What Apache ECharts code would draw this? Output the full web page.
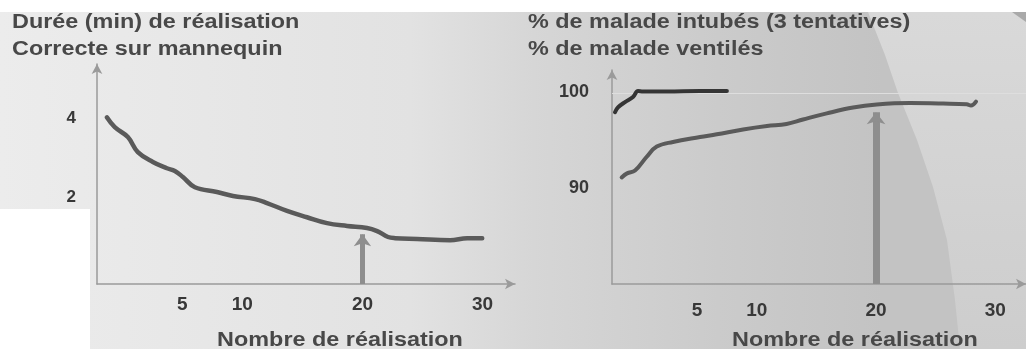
<!DOCTYPE html>
<html>
<head>
<meta charset="utf-8">
<script src="https://cdn.jsdelivr.net/npm/echarts@6/dist/echarts.min.js"></script>
<style>
html,body{margin:0;padding:0;background:#fff;}
#c{width:1026px;height:349px;}
</style>
</head>
<body>
<div id="c"></div>
<script>
// ---- data ----
const titleLeft = ['Durée (min) de réalisation', 'Correcte sur mannequin'];
const titleRight = ['% de malade intubés (3 tentatives)', '% de malade ventilés'];
const xName = 'Nombre de réalisation';
const xTickLabels = [5, 10, 20, 30];
const leftYTicks = [2, 4];
const rightYTicks = [90, 100];

// Durée (min) vs réalisation
const durX = [-1.28,-0.62,0.47,1.30,2.55,3.72,4.38,5.05,6.05,7.88,9.22,11.05,12.05,13.72,15.38,17.05,18.72,20.38,21.22,22.13,22.72,24.55,27.3,28.72,29.97];
const durY = [4.02,3.77,3.52,3.14,2.89,2.73,2.66,2.51,2.25,2.13,2.03,1.95,1.85,1.65,1.49,1.34,1.27,1.22,1.14,0.99,0.96,0.94,0.91,0.96,0.96];

// % intubés
const intubX = [-1.88,-1.63,-1.04,-0.37,0.05,0.47,2.48,5.25,7.5];
const intubY = [97.9,98.4,98.96,99.48,100.1,100.05,100.05,100.1,100.1];

// % ventilés
const ventX = [-1.32,-0.87,-0.2,0.78,1.62,2.98,5.25,6.65,8.86,10.86,12.5,13.88,15.87,18.08,20.06,22.85,25.62,27.6,27.96,28.38];
const ventY = [91.1,91.53,91.82,93.26,94.32,94.8,95.31,95.6,96.1,96.46,96.67,97.14,97.78,98.39,98.7,98.85,98.8,98.72,98.59,99.0];

// arrows marking the 20th realisation
const leftArrow = {x: 20, from: -0.2, to: 1.06};
const rightArrow = {x: 20, from: 80, to: 97.9};
const refLine = 99.9;

// ---- chart ----
const zip = (a, b) => a.map((v, i) => [v, b[i]]);
const FONT = 'Liberation Sans, Arial, sans-serif';
const SX = 1.17; // horizontal stretch of the original image

const axisLine = {show: true, onZero: false, symbol: ['none', 'arrow'], symbolSize: [8, 10], lineStyle: {color: '#9a9a9a', width: 1.5}};

function xAxis(grid, min, max, margin, size) {
  return {
    type: 'value', gridIndex: grid, min: min, max: max,
    axisLine: axisLine, axisTick: {show: false}, splitLine: {show: false},
    axisLabel: {customValues: xTickLabels, margin: margin, fontSize: size, fontWeight: 'bold', color: '#383838', fontFamily: FONT}
  };
}
function yAxis(grid, min, max, ticks, margin, size) {
  return {
    type: 'value', gridIndex: grid, min: min, max: max,
    axisLine: axisLine, axisTick: {show: false}, splitLine: {show: false},
    axisLabel: {customValues: ticks, margin: margin, fontSize: size, fontWeight: 'bold', color: '#383838', fontFamily: FONT}
  };
}

function txt(str, x, y, size, align) {
  return {
    type: 'text', x: x, y: y, scaleX: SX, z: 10, silent: true,
    style: {text: str, fill: '#484848', font: 'bold ' + size + 'px ' + FONT, textAlign: align || 'left', textVerticalAlign: 'top'}
  };
}

const chart = echarts.init(document.getElementById('c'), null, {renderer: 'canvas'});
const option = {
  backgroundColor: '#ffffff',
  animation: false,
  graphic: [
    {type: 'rect', z: -5, silent: true, shape: {x: 0, y: 12, width: 1026, height: 337},
      style: {fill: {type: 'linear', x: 0, y: 0, x2: 1, y2: 0, colorStops: [
        {offset: 0, color: '#ececec'}, {offset: 0.4, color: '#e2e2e2'}, {offset: 0.52, color: '#d6d6d6'},
        {offset: 0.7, color: '#cbcbcb'}, {offset: 0.86, color: '#c3c3c3'}, {offset: 1, color: '#c3c3c3'}]}}},
    {type: 'polygon', z: -4, silent: true,
      shape: {points: [[868,12],[1026,12],[1026,349],[960,349],[955,300],[947,240],[933,187],[917,140],[898,93],[885,55]]},
      style: {fill: {type: 'linear', x: 0, y: 0, x2: 0, y2: 1, colorStops: [{offset: 0, color: '#d9d9d9'}, {offset: 1, color: '#cdcdcd'}]}}},
    {type: 'polygon', z: -3, silent: true, shape: {points: [[1012,12],[1026,12],[1026,22]]}, style: {fill: '#a9a9a9'}},
    {type: 'rect', z: -3, silent: true, shape: {x: 0, y: 209, width: 90, height: 140}, style: {fill: '#ffffff'}},
    txt(titleLeft[0], 12, 12, 20),
    txt(titleLeft[1], 12, 39, 20),
    txt(titleRight[0], 528, 12, 20),
    txt(titleRight[1], 528, 39, 20),
    txt(xName, 340, 330, 20, 'center'),
    txt(xName, 855, 330, 20, 'center')
  ],
  grid: [
    {left: 97, top: 64, width: 418, height: 220},
    {left: 612, top: 70, width: 414, height: 214}
  ],
  xAxis: [xAxis(0, -2.1, 32.7, 11, 19), xAxis(1, -2.13, 32.57, 17, 19)],
  yAxis: [yAxis(0, -0.2, 5.37, leftYTicks, 21, 17), yAxis(1, 80, 102.3, rightYTicks, 23, 18)],
  series: [
    {
      type: 'line', xAxisIndex: 0, yAxisIndex: 0, data: zip(durX, durY), smooth: 0.4, symbol: 'none',
      lineStyle: {color: '#5a5a5a', width: 4.5, cap: 'round', join: 'round'}, z: 3,
      markLine: {silent: true, symbol: ['none', 'arrow'], symbolSize: [13, 12], label: {show: false},
        lineStyle: {color: '#8e8e8e', width: 5, type: 'solid'},
        data: [[{coord: [leftArrow.x, leftArrow.from]}, {coord: [leftArrow.x, leftArrow.to]}]]}
    },
    {
      type: 'line', xAxisIndex: 1, yAxisIndex: 1, data: zip(ventX, ventY), smooth: 0.4, symbol: 'none',
      lineStyle: {color: '#5a5a5a', width: 4, cap: 'round', join: 'round'}, z: 3,
      markLine: {silent: true, symbol: 'none', label: {show: false},
        lineStyle: {color: '#dedede', width: 1.2, type: 'solid'},
        data: [{yAxis: refLine}]}
    },
    {
      type: 'line', xAxisIndex: 1, yAxisIndex: 1, data: zip(intubX, intubY), smooth: 0.4, symbol: 'none',
      lineStyle: {color: '#353535', width: 4, cap: 'round', join: 'round'}, z: 5,
      markLine: {silent: true, symbol: ['none', 'arrow'], symbolSize: [14, 12], label: {show: false},
        lineStyle: {color: '#8e8e8e', width: 7, type: 'solid'},
        data: [[{coord: [rightArrow.x, rightArrow.from]}, {coord: [rightArrow.x, rightArrow.to]}]]}
    }
  ]
};
chart.setOption(option);
</script>
</body>
</html>
